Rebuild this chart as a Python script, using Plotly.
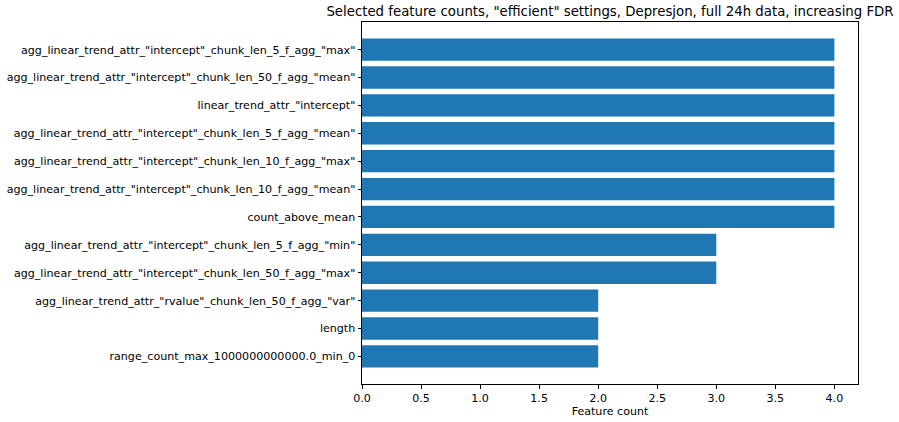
import plotly.graph_objects as go

features = [
    'agg_linear_trend_attr_"intercept"_chunk_len_5_f_agg_"max"',
    'agg_linear_trend_attr_"intercept"_chunk_len_50_f_agg_"mean"',
    'linear_trend_attr_"intercept"',
    'agg_linear_trend_attr_"intercept"_chunk_len_5_f_agg_"mean"',
    'agg_linear_trend_attr_"intercept"_chunk_len_10_f_agg_"max"',
    'agg_linear_trend_attr_"intercept"_chunk_len_10_f_agg_"mean"',
    'count_above_mean',
    'agg_linear_trend_attr_"intercept"_chunk_len_5_f_agg_"min"',
    'agg_linear_trend_attr_"intercept"_chunk_len_50_f_agg_"max"',
    'agg_linear_trend_attr_"rvalue"_chunk_len_50_f_agg_"var"',
    'length',
    'range_count_max_1000000000000.0_min_0',
]
counts = [4, 4, 4, 4, 4, 4, 4, 3, 3, 2, 2, 2]

title = 'Selected feature counts, "efficient" settings, Depresjon, full 24h data, increasing FDR'
x_ticks = [0.0, 0.5, 1.0, 1.5, 2.0, 2.5, 3.0, 3.5, 4.0]

fig = go.Figure(go.Bar(
    x=counts, y=features, orientation='h', width=0.8,
    marker=dict(color='#1f77b4', line=dict(width=0)),
))

W, H = 899, 422
font = dict(family='DejaVu Sans', size=11.1, color='black')
fig.update_layout(
    width=W, height=H,
    margin=dict(l=362, r=41, t=22, b=38),
    paper_bgcolor='white', plot_bgcolor='white',
    font=font,
    showlegend=False,
    title=dict(text=title, x=0.5, xref='paper', xanchor='center',
               y=1 - 11 / H, yref='container', yanchor='middle',
               font=dict(family='DejaVu Sans', size=13.3, color='black')),
)
fig.update_xaxes(
    range=[0, 4.2], tickvals=x_ticks, ticktext=[f'{v:.1f}' for v in x_ticks],
    showgrid=False, zeroline=False, automargin=False,
    showline=True, linecolor='black', linewidth=1, mirror=True,
    ticks='outside', ticklen=3.5, tickwidth=1, tickcolor='black',
    title=dict(text='Feature count', standoff=3, font=font),
)
fig.update_yaxes(
    type='category', categoryorder='array', categoryarray=features,
    range=[11.99, -0.99], automargin=False,
    showgrid=False, zeroline=False,
    showline=True, linecolor='black', linewidth=1, mirror=True,
    ticks='outside', ticklen=3.5, tickwidth=1, tickcolor='black',
)

fig.write_html('out.html', config={'displayModeBar': False},
               post_script="document.body.style.margin='0';")
